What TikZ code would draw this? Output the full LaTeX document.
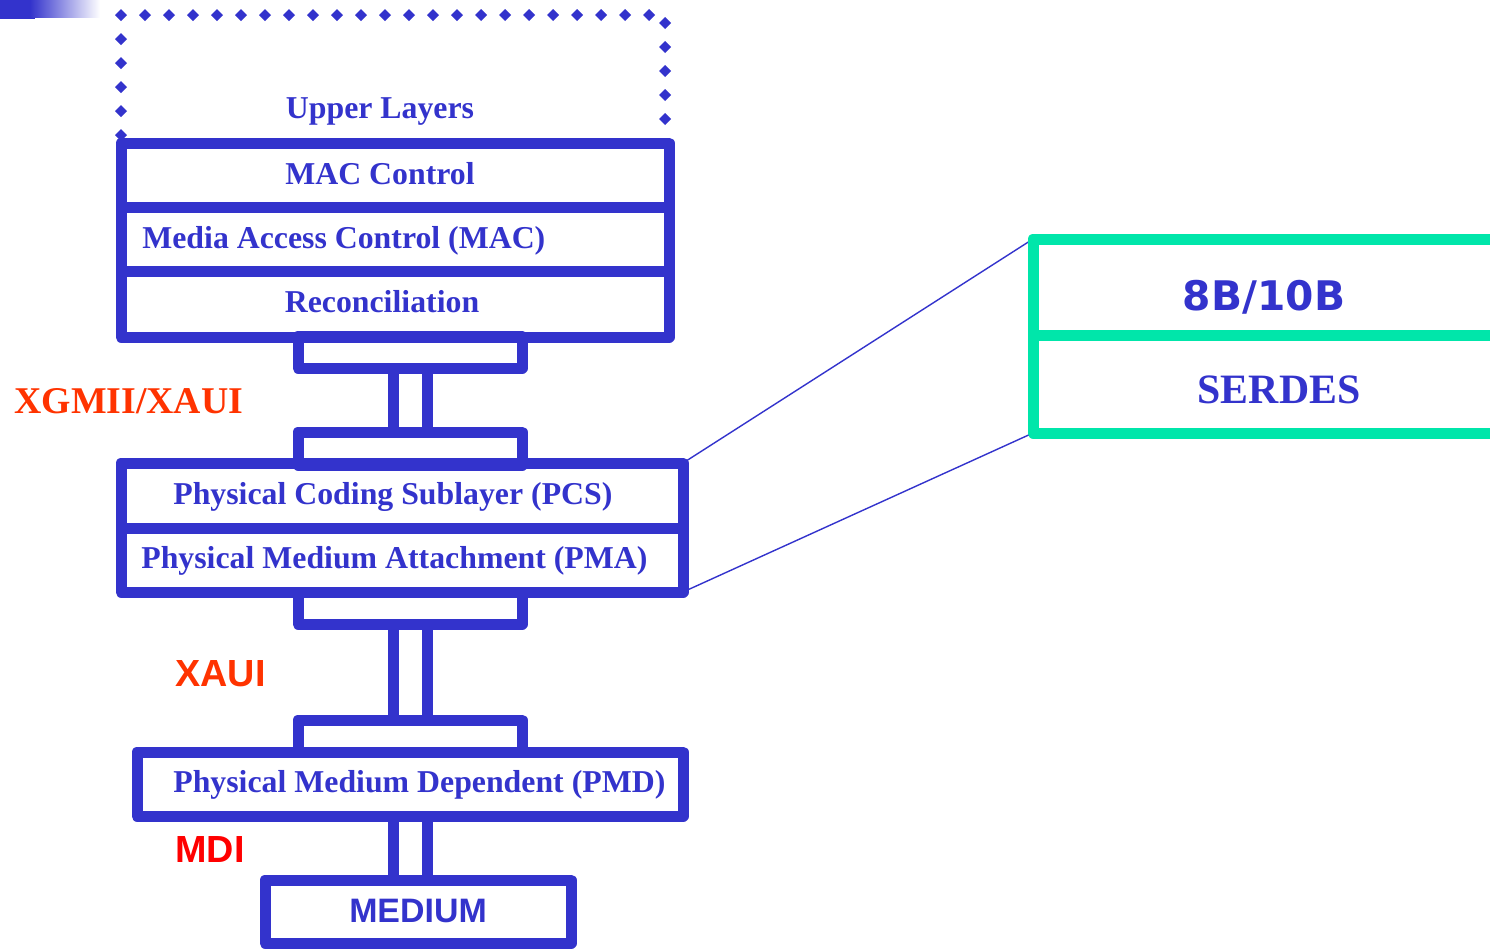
\documentclass[tikz,border=0pt]{standalone}
\usepackage{fontspec}
\setmainfont{Liberation Serif}
\newfontfamily\arialfont{Liberation Sans}
\newfontfamily\dejafont{DejaVu Sans}
\usetikzlibrary{calc}

\definecolor{layblue}{RGB}{51,51,204}
\definecolor{encgreen}{RGB}{0,230,170}
\definecolor{ifred}{RGB}{255,51,0}
\definecolor{mdired}{RGB}{255,0,0}

\begin{document}
\begin{tikzpicture}[x=0.02cm, y=-0.02cm, line join=round,
  frame/.style={draw=layblue, line width=0.22cm},
  encframe/.style={draw=encgreen, line width=0.22cm},
  layertext/.style={text=layblue, inner sep=0pt, anchor=base,
    font=\fontsize{18.1pt}{20pt}\selectfont\bfseries},
  iftext/.style={inner sep=0pt, anchor=base west}]

\useasboundingbox (0,0) rectangle (1490,948);
\clip (0,0) rectangle (1490,948);

% Little bar in the top left corner
\fill[layblue] (0,0) rectangle (35,19);
\shade[left color=layblue, right color=white] (30,0) rectangle (100,17);

% Corners used by the zoom lines
\coordinate (pcsNE) at (683,463);
\coordinate (pmaSE) at (683,592);
\coordinate (encNW) at (1033,239);
\coordinate (serSW) at (1033,433);

% Zoom lines, drawn first so the frames cover their ends
\draw[layblue, line width=0.8pt] (pcsNE) -- (encNW);
\draw[layblue, line width=0.8pt] (pmaSE) -- (serSW);

% Upper layers: open dotted frame
\foreach \y in {15, 39, ..., 135} {
  \fill[layblue] (121,\y) +(0,-6) -- +(6,0) -- +(0,6) -- +(-6,0) -- cycle;
}
\foreach \x in {145, 169, ..., 657} {
  \fill[layblue] (\x,15) +(0,-6) -- +(6,0) -- +(0,6) -- +(-6,0) -- cycle;
}
\foreach \y in {23, 47, ..., 119} {
  \fill[layblue] (665,\y) +(0,-6) -- +(6,0) -- +(0,6) -- +(-6,0) -- cycle;
}

% MAC stack
\draw[frame] (121,143) rectangle (669,337);
\draw[frame] (121,207) -- (669,207);
\draw[frame] (121,271) -- (669,271);

% PCS / PMA stack
\draw[frame] (121,463) rectangle (683,592);
\draw[frame] (121,528) -- (683,528);

% PMD and medium
\draw[frame] (137,752) rectangle (683,816);
\draw[frame] (265,880) rectangle (571,943);

% Interface plugs between the stacks
\foreach \a\b\c\d in {336/368/432/465, 592/624/720/752} {
  \draw[frame] (298,\a) rectangle (522,\b);
  \draw[frame] (393,\b) rectangle (427,\c);
  \draw[frame] (298,\c) rectangle (522,\d);
}
\draw[frame] (393,816) rectangle (427,880);

% Zoomed PCS / PMA box
\draw[encframe] (1500,239) -- (encNW) -- (serSW) -- (1500,433);
\draw[encframe] (1033,335) -- (1500,335);

% Layer names
\node[layertext] (upper) at (380,118) {Upper Layers};
\node[layertext] (macctl) at (380,184) {MAC Control};
\node[layertext, anchor=base west] (mac) at (142,248) {Media Access Control (MAC)};
\node[layertext] (rs) at (382,312) {Reconciliation};
\node[layertext, anchor=base west] (pcs) at (173,504) {Physical Coding Sublayer (PCS)};
\node[layertext, anchor=base west] (pma) at (141,568) {Physical Medium Attachment (PMA)};
\node[layertext, anchor=base west] (pmd) at (173,792) {Physical Medium Dependent (PMD)};
\node[layertext, font=\arialfont\fontsize{19.3pt}{21pt}\selectfont\bfseries] (medium) at (418,922) {MEDIUM};
\node[layertext, font=\dejafont\fontsize{23.2pt}{25pt}\selectfont\bfseries] (enc) at (1264,310) {8B/10B};
\node[layertext, font=\fontsize{23.8pt}{26pt}\selectfont\bfseries] (serdes) at (1279,403) {SERDES};

% Interface names
\node[iftext, text=ifred, font=\fontsize{21.5pt}{24pt}\selectfont\bfseries] (xgmii) at (14,413) {XGMII/XAUI};
\node[iftext, text=ifred, font=\arialfont\fontsize{21.5pt}{24pt}\selectfont\bfseries] (xaui) at (175,686) {XAUI};
\node[iftext, text=mdired, font=\arialfont\fontsize{21.5pt}{24pt}\selectfont\bfseries] (mdi) at (175,862) {MDI};

\end{tikzpicture}
\end{document}
